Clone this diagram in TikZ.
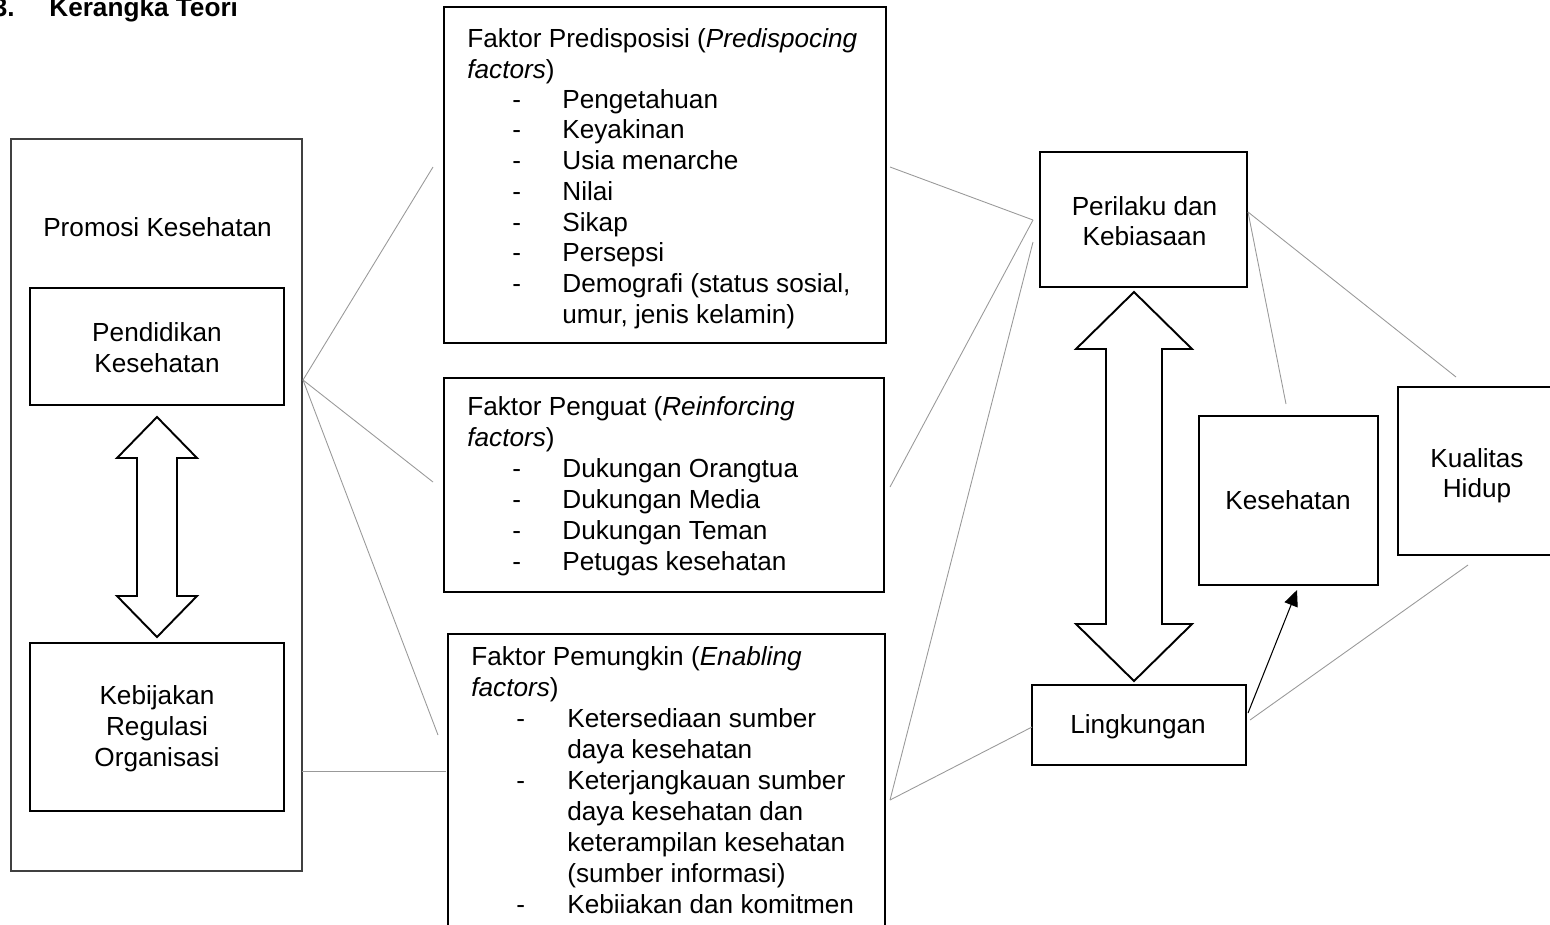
\documentclass[tikz,border=0pt]{standalone}
\usepackage{fontspec}
\setmainfont{Liberation Sans}
\usetikzlibrary{arrows.meta}
\newlength\upx
\setlength\upx{0.02cm}
\begin{document}
\begin{tikzpicture}[x=0.02cm,y=-0.02cm,
  box/.style={draw, line width=1.1pt, inner sep=0, outer sep=0},
  outerbox/.style={draw=black!75, line width=0.7pt, inner sep=0, outer sep=0},
  t/.style={font=\fontsize{14.9}{17}\selectfont, inner sep=0, anchor=base west},
  tc/.style={t, anchor=base},
  tb/.style={t, font=\fontsize{14.9}{17}\selectfont\bfseries},
  conn/.style={draw=black!40, line width=0.5pt},
  dbl/.style={draw, line width=1.1pt, line join=miter}]
\useasboundingbox (0,0) rectangle (1550,924);
\clip (0,0) rectangle (1550,924);

% title
\node[tb, anchor=base east] (tnum) at (15,16) {3.};
\node[tb] (title) at (49,16) {Kerangka Teori};

% left column
\node[outerbox, minimum width=291\upx, minimum height=732\upx] (promo) at (156.5,505) {};
\node[tc] (promot) at (157.5,236) {Promosi Kesehatan};
\node[box, minimum width=254\upx, minimum height=117\upx] (pend) at (157,346.5) {};
\node[tc] (pend1) at (157,341) {Pendidikan};
\node[tc] (pend2) at (157,372) {Kesehatan};
\node[box, minimum width=254\upx, minimum height=168\upx] (kebij) at (157,727) {};
\node[tc] (keb1) at (157,704) {Kebijakan};
\node[tc] (keb2) at (157,735) {Regulasi};
\node[tc] (keb3) at (157,766) {Organisasi};
\draw[dbl] (117,458) -- (157,417) -- (197,458) -- (177,458) -- (177,596) -- (197,596)
  -- (157,637) -- (117,596) -- (137,596) -- (137,458) -- cycle;

% Predisposisi
\node[box, minimum width=442\upx, minimum height=336\upx] (pred) at (665,175) {};
\node[t] (predh1) at (467,47) {Faktor Predisposisi (\textit{Predispocing}};
\node[t] (predh2) at (467,78) {\textit{factors})};
\foreach \s [count=\i] in {Pengetahuan, Keyakinan, Usia menarche, Nilai, Sikap, Persepsi, {Demografi (status sosial,}} {
  \node[t] (pd\i) at (512,{108+(\i-1)*30.75}) {-};
  \node[t] (pt\i) at (562,{108+(\i-1)*30.75}) {\s};
}
\node[t] (pt8) at (562,323) {umur, jenis kelamin)};

% Penguat
\node[box, minimum width=440\upx, minimum height=214\upx] (peng) at (664,485) {};
\node[t] (pengh1) at (467,415) {Faktor Penguat (\textit{Reinforcing}};
\node[t] (pengh2) at (467,446) {\textit{factors})};
\foreach \s [count=\i] in {Dukungan Orangtua, Dukungan Media, Dukungan Teman, Petugas kesehatan} {
  \node[t] (gd\i) at (512,{477+(\i-1)*31}) {-};
  \node[t] (gt\i) at (562,{477+(\i-1)*31}) {\s};
}

% Pemungkin
\node[box, minimum width=437\upx, minimum height=320\upx] (pemu) at (666.5,794) {};
\node[t] (pemh1) at (471,665) {Faktor Pemungkin (\textit{Enabling}};
\node[t] (pemh2) at (471,696) {\textit{factors})};
\node[t] (md1) at (516,727) {-};
\node[t] (md2) at (516,789) {-};
\node[t] (md3) at (516,913) {-};
\node[t] (mt1) at (567,727) {Ketersediaan sumber};
\node[t] (mt2) at (567,758) {daya kesehatan};
\node[t] (mt3) at (567,789) {Keterjangkauan sumber};
\node[t] (mt4) at (567,820) {daya kesehatan dan};
\node[t] (mt5) at (567,851) {keterampilan kesehatan};
\node[t] (mt6) at (567,882) {(sumber informasi)};
\node[t] (mt7) at (567,913) {Kebiiakan dan komitmen};

% right side
\node[box, minimum width=207\upx, minimum height=135\upx] (peri) at (1143.5,219.5) {};
\node[tc] (peri1) at (1144.5,215) {Perilaku dan};
\node[tc] (peri2) at (1144.5,245) {Kebiasaan};
\node[box, minimum width=214\upx, minimum height=80\upx] (ling) at (1139,725) {};
\node[tc] (lingt) at (1138,733) {Lingkungan};
\node[box, minimum width=179\upx, minimum height=169\upx] (kes) at (1288.5,500.5) {};
\node[tc] (kest) at (1288,509) {Kesehatan};
\node[box, minimum width=159\upx, minimum height=168\upx] (kual) at (1477.5,471) {};
\node[tc] (kual1) at (1477,467) {Kualitas};
\node[tc] (kual2) at (1477,497) {Hidup};
\draw[dbl] (1076,349) -- (1134,292) -- (1192,349) -- (1162,349) -- (1162,624) -- (1192,624)
  -- (1134,681) -- (1076,624) -- (1106,624) -- (1106,349) -- cycle;

% connector coordinates
\coordinate (hub) at (303,380);
\coordinate (a1) at (433,167);
\coordinate (a2) at (433,482);
\coordinate (a3) at (438,735);
\coordinate (k1) at (302,771);
\coordinate (k2) at (446,771);
\coordinate (b1) at (890,167);
\coordinate (b2) at (890,487);
\coordinate (b3) at (890,800);
\coordinate (p1) at (1033,220);
\coordinate (p2) at (1033,242);
\coordinate (l1) at (1032,727);
\coordinate (r1) at (1248,212);
\coordinate (r2) at (1286,404);
\coordinate (r3) at (1456,377);
\coordinate (s1) at (1248,713);
\coordinate (s2) at (1297,590);
\coordinate (s3) at (1250,720);
\coordinate (s4) at (1468,565);

\draw[conn] (hub) -- (a1);
\draw[conn] (hub) -- (a2);
\draw[conn] (hub) -- (a3);
\draw[conn] (k1) -- (k2);
\draw[conn] (b1) -- (p1);
\draw[conn] (b2) -- (p1);
\draw[conn] (b3) -- (p2);
\draw[conn] (b3) -- (l1);
\draw[conn] (r1) -- (r2);
\draw[conn] (r1) -- (r3);
\draw[conn] (s3) -- (s4);
\draw[line width=0.6pt, -{Triangle[length=0.32cm,width=0.28cm]}] (s1) -- (s2);
\end{tikzpicture}
\end{document}
